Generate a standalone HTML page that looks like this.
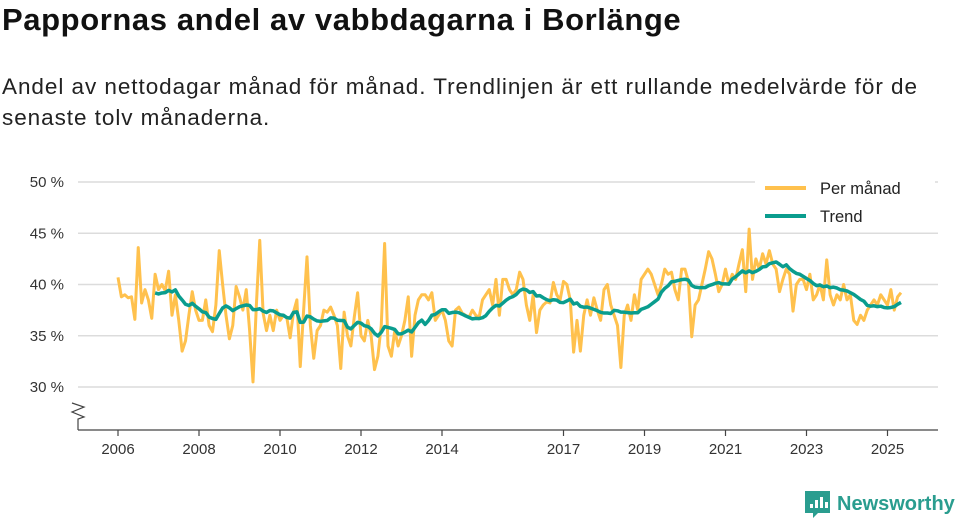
<!DOCTYPE html>
<html><head><meta charset="utf-8"><style>
body{margin:0;background:#fff;font-family:"Liberation Sans",sans-serif;}
#wrap{position:relative;width:960px;height:520px;overflow:hidden;}
h1{position:absolute;left:2px;top:2px;margin:0;font-size:31px;letter-spacing:0.6px;font-weight:bold;color:#111;}
p{position:absolute;left:2px;top:71px;margin:0;font-size:22.5px;letter-spacing:0.95px;line-height:31px;color:#222;width:950px;}
svg{position:absolute;left:0;top:0;}
</style></head><body><div id="wrap">
<h1>Pappornas andel av vabbdagarna i Borlänge</h1>
<p>Andel av nettodagar månad för månad. Trendlinjen är ett rullande medelvärde för de<br>senaste tolv månaderna.</p>
<svg id="chart" width="960" height="520"></svg>
</div>
<script>
const startYear = 2006;
const monthly = [
40.7,38.8,39,38.7,38.8,36.6,43.6,38.2,39.5,38.5,36.7,41,
39.5,40,39.4,41.3,37,39,36.5,33.5,34.5,37,39.3,37.5,
36.5,36.5,38.5,36,35.4,38,43.3,40,37,34.7,36,39.8,
38.8,37.5,39.5,35.5,30.5,38,44.3,37.2,35.5,37,35.5,37.5,
36.5,37,36.8,34.8,37.3,38.5,32,37.5,42.7,36,32.8,35.5,
36,37.5,37.3,37.8,37,36,31.8,37.3,35,34,36.8,39.2,
35,34.5,36.5,35,31.7,33,36,44,34,33,35.5,34,
35,36.5,38.8,33,37,38.5,39,39,38.5,39.2,36.5,37,
37.5,36.5,34.5,34,37.5,37.8,37.2,37,36.8,37.5,37,36.8,
38.5,39,39.5,38,40.5,37,40.5,40.5,39.5,39,39.5,41.2,
40.5,38,36.5,39,35.3,37.5,38,38.3,38.2,40.2,39,38.5,
40.3,40,38.5,33.4,36.5,33.5,37,38.5,37,38.7,37.5,36.5,
39.5,40,38,37,36,31.9,37,38,36.5,39,37.5,40.5,
41,41.5,41,40,39,40,41.5,41,41.2,39.5,38.5,41.5,
41.5,40.3,34.9,38,38.5,40,41.5,43.2,42.5,41,39.3,40,
41.5,40,41,40.5,42,43.4,39.3,45.4,40.5,42.5,41.5,43,
42,43.3,42,41.5,39.3,40.5,41.5,41,37.4,40,40.5,40.5,
39.5,41,38.5,39,40,38.5,42.4,39,38,39,38.5,40,
38.5,39,36.5,36.1,37,36.5,37.5,38,38.5,38,39,38.5,
38,39.5,37.5,38.8,39.2];
const yTicks = [30,35,40,45,50];
const xTickYears = [2006,2008,2010,2012,2014,2017,2019,2021,2023,2025];
const legendLabels = ["Per månad","Trend"];

const NS="http://www.w3.org/2000/svg";
const svg=document.getElementById('chart');
function yS(v){return 387-(v-30)*10.25;}
function xS(i){return 118+i*(40.5/12);}
function mk(t,a,p){const e=document.createElementNS(NS,t);for(const k in a)e.setAttribute(k,a[k]);(p||svg).appendChild(e);return e;}

yTicks.forEach(v=>{
  const g=mk('line',{x1:78,x2:938,y1:yS(v),y2:yS(v),stroke:'#dcdcdc','stroke-width':1.5});
  
  
  const t=mk('text',{x:64,y:yS(v)+5,'text-anchor':'end','font-size':15,fill:'#333'});
  t.textContent=v+' %';
  
  
});
const ax=mk('line',{x1:78,x2:938,y1:430,y2:430,stroke:'#444','stroke-width':1.2});


const br=mk('path',{d:'M72,403 L84,407 L72,412 L84,417 L78,419 L78,430',fill:'none',stroke:'#444','stroke-width':1.2});


xTickYears.forEach(y=>{
  const x=xS((y-startYear)*12);
  const tk=mk('line',{x1:x,x2:x,y1:430,y2:436,stroke:'#444','stroke-width':1.2});
  
  
  const t=mk('text',{x:x,y:454,'text-anchor':'middle','font-size':15,fill:'#333'});
  t.textContent=y;
  
  
});
const line=mk('polyline',{points:monthly.map((v,i)=>xS(i)+','+yS(v)).join(' '),fill:'none',stroke:'#FFC14D','stroke-width':3,'stroke-linejoin':'round'});


const trend=[];
for(let i=11;i<monthly.length;i++){let s=0;for(let j=i-11;j<=i;j++)s+=monthly[j];trend.push(xS(i)+','+yS(s/12));}
const tl=mk('polyline',{points:trend.join(' '),fill:'none',stroke:'#0A9D8E','stroke-width':3.5,'stroke-linejoin':'round'});



const lg=mk('rect',{x:755,y:172,width:180,height:60,fill:'#fff'});


[['#FFC14D',188],['#0A9D8E',216]].forEach((c,i)=>{
  const l=mk('line',{x1:765,x2:806,y1:c[1],y2:c[1],stroke:c[0],'stroke-width':4});
  
  
  const t=mk('text',{x:820,y:c[1]+6,'font-size':16.5,fill:'#222'});
  t.textContent=legendLabels[i];
  
  
});
const logo=mk('g',{});


mk('path',{d:'M805,491 h25 v22 h-12 l-5,5 v-5 h-8 z',fill:'#2a9d8f'},logo);
[[810,504,4],[815,500,8],[820,497,11],[825,502,6]].forEach(b=>mk('rect',{x:b[0],y:b[1],width:3,height:b[2],fill:'#fff'},logo));
const lt=mk('text',{x:837,y:510,'font-size':20,'font-weight':'bold',fill:'#2a9d8f'},logo);
lt.textContent='Newsworthy';
</script></body></html>
